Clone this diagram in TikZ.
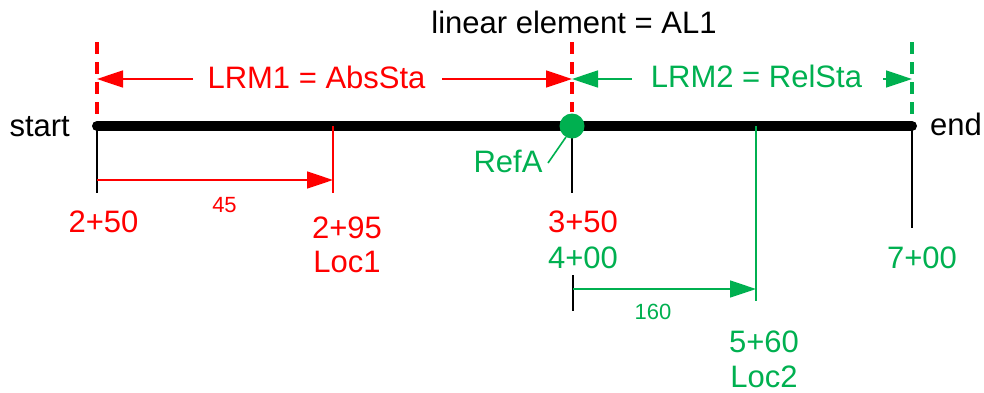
\documentclass[tikz,border=0pt]{standalone}
\usepackage{fontspec}
\setmainfont{Liberation Sans}
\usetikzlibrary{arrows.meta}
\definecolor{lrmred}{RGB}{255,0,0}
\definecolor{lrmgreen}{RGB}{0,176,80}
\begin{document}
\begin{tikzpicture}[x=1bp,y=-1bp,
  big/.style={font=\fontsize{31bp}{35bp}\selectfont, inner sep=0pt, anchor=base},
  small/.style={font=\fontsize{22bp}{26bp}\selectfont, inner sep=0pt, anchor=base},
  tick/.style={line width=1.6bp},
  bound/.style={line width=3.5bp, dash pattern=on 12bp off 8bp},
  dim/.style={line width=1.6bp, -{Triangle[length=26bp,width=17bp]}},
]
\useasboundingbox (0,0) rectangle (984,392);

% stations on the linear element
\coordinate (s)    at (97,126);
\coordinate (loc1) at (333,126);
\coordinate (ref)  at (572,126);
\coordinate (loc2) at (756,126);
\coordinate (e)    at (912,126);

% LRM boundaries
\coordinate (sTop)   at (97,42);
\coordinate (refTop) at (572,42);
\coordinate (refLow) at (572,112);
\coordinate (eTop)   at (912,42);
\draw[bound, lrmred]   (sTop) -- (s);
\draw[bound, lrmred]   (refTop) -- (refLow);
\draw[bound, lrmgreen] (eTop) -- (e);

% title
\node[big] (title) at (574,33) {linear element = AL1};

% LRM extents
\node[big, text=lrmred]   (lrm1) at (316.5,88) {LRM1 = AbsSta};
\node[big, text=lrmgreen] (lrm2) at (756.5,87) {LRM2 = RelSta};
\coordinate (r1) at (193,79); \coordinate (r1e) at (97,79);
\coordinate (r2) at (442,79); \coordinate (r2e) at (572,79);
\coordinate (g1) at (632,79); \coordinate (g1e) at (572,79);
\coordinate (g2) at (883,79); \coordinate (g2e) at (912,79);
\draw[dim, lrmred]   (r1) -- (r1e);
\draw[dim, lrmred]   (r2) -- (r2e);
\draw[dim, lrmgreen] (g1) -- (g1e);
\draw[dim, lrmgreen] (g2) -- (g2e);

% the element itself
\draw[line width=10bp, line cap=round] (s) -- (e);
\node[big, anchor=base east] (start) at (70,136) {start};
\node[big, anchor=base west] (end)   at (930,135) {end};

% station ticks
\coordinate (sLow)    at (97,193);
\coordinate (loc1Low) at (333,193);
\coordinate (refTick) at (572,193);
\coordinate (loc2Low) at (756,301);
\coordinate (eLow)    at (912,228);
\draw[tick] (s) -- (sLow);
\draw[tick, lrmred] (loc1) -- (loc1Low);
\draw[tick] (ref) -- (refTick);
\draw[tick, lrmgreen] (loc2) -- (loc2Low);
\draw[tick] (e) -- (eLow);

% reference point RefA
\fill[lrmgreen] (ref) circle[radius=12.5bp];
\node[big, text=lrmgreen] (refA) at (508,172) {RefA};
\coordinate (leadA) at (566,137);
\coordinate (leadB) at (548,163);
\draw[tick, lrmgreen] (leadA) -- (leadB);

% offset from start to Loc1
\coordinate (d1a) at (97,180);
\coordinate (d1b) at (333,180);
\draw[dim, lrmred] (d1a) -- (d1b);
\node[small, text=lrmred] (off1) at (224.5,212) {45};

% offset from RefA to Loc2
\coordinate (t2a) at (573,275);
\coordinate (t2b) at (573,311);
\draw[tick] (t2a) -- (t2b);
\coordinate (d2a) at (573,289);
\coordinate (d2b) at (756,289);
\draw[dim, lrmgreen] (d2a) -- (d2b);
\node[small, text=lrmgreen] (off2) at (653,319) {160};

% station labels
\node[big, text=lrmred]   (st250) at (103.5,232) {2+50};
\node[big, text=lrmred]   (st295) at (347,238) {2+95};
\node[big, text=lrmred]   (nLoc1) at (347,272) {Loc1};
\node[big, text=lrmred]   (st350) at (583,232) {3+50};
\node[big, text=lrmgreen] (st400) at (583,268) {4+00};
\node[big, text=lrmgreen] (st700) at (922,268) {7+00};
\node[big, text=lrmgreen] (st560) at (764,352) {5+60};
\node[big, text=lrmgreen] (nLoc2) at (764,387) {Loc2};
\end{tikzpicture}
\end{document}
